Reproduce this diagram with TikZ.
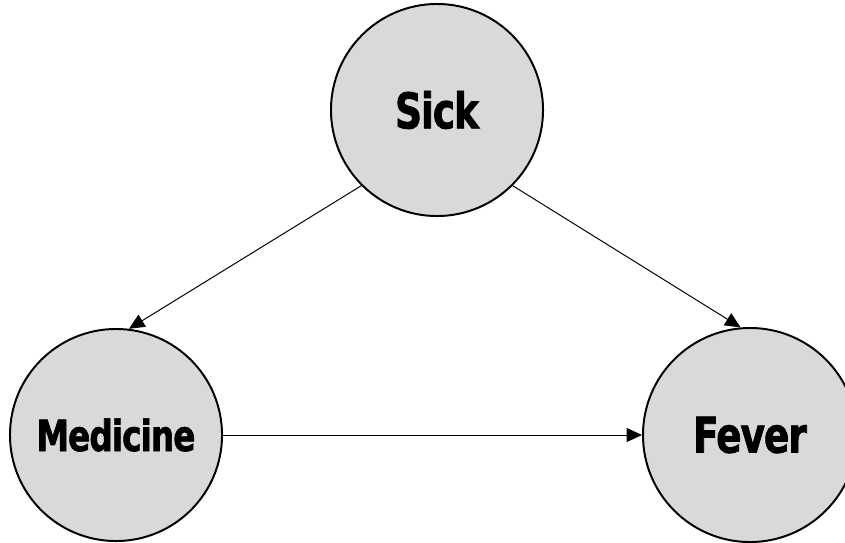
\documentclass[tikz,border=0pt]{standalone}
\usepackage{fontspec}
\newfontfamily\varfont{DejaVu Sans}[FakeStretch=0.76,FakeBold=1.5,LetterSpace=-2]
\usetikzlibrary{arrows.meta}
\definecolor{nodegray}{HTML}{D9D9D9}

\begin{document}
\begin{tikzpicture}[x=0.025cm,y=-0.025cm,
    var/.style={circle,draw,line width=1.4pt,fill=nodegray,minimum size=5.3cm,inner sep=0pt,
      font=\varfont\bfseries\fontsize{35}{40}\selectfont},
    link/.style={line width=0.7pt,-{Triangle[length=11pt,width=10pt]}}]
    \useasboundingbox (0,0) rectangle (845,542);
    \node[var] (sick) at (437,110) {Sick};
    \node[var,font=\varfont\bfseries\fontsize{30.5}{35}\selectfont] (med) at (116,435) {Medicine};
    \node[var,minimum size=5.35cm] (fev) at (750,435) {Fever};
    \draw[link] (sick.-135) -- (med.83);
    \draw[link] (sick.-45) -- (fev.95);
    \draw[link] (med) -- (fev);
  \end{tikzpicture}
\end{document}
